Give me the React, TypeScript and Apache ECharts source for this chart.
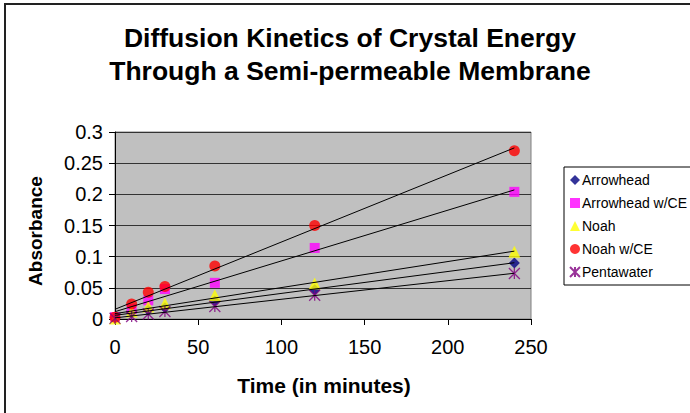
import React, { useEffect, useRef } from "react";
import * as echarts from "echarts";

const FONT = "'Liberation Sans', Arial, sans-serif";

const titleLines = ["Diffusion Kinetics of Crystal Energy", "Through a Semi-permeable Membrane"];
const xAxisTitle = "Time (in minutes)";
const yAxisTitle = "Absorbance";

const times = [0, 10, 20, 30, 60, 120, 240];
const seriesNames = ["Arrowhead", "Arrowhead w/CE", "Noah", "Noah w/CE", "Pentawater"];
const arrowhead = [0.002, 0.010, 0.014, 0.018, 0.029, 0.047, 0.090];
const arrowheadCE = [0.003, 0.016, 0.030, 0.048, 0.058, 0.114, 0.204];
const noah = [0.001, 0.012, 0.020, 0.025, 0.038, 0.057, 0.108];
const noahCE = [0.003, 0.024, 0.043, 0.052, 0.085, 0.150, 0.270];
const pentawater = [0.001, 0.004, 0.008, 0.012, 0.020, 0.038, 0.073];

const xMin = 0, xMax = 250, xStep = 50;
const yMin = 0, yMax = 0.3, yStep = 0.05;

const ASTERISK = "path://M0,0L10,10M10,0L0,10M5,0L5,10";

const styles = [
  { symbol: "diamond", color: "#000080", size: 11 },
  { symbol: "rect", color: "#FF00FF", size: 10 },
  { symbol: "triangle", color: "#FFFF00", size: 12 },
  { symbol: "circle", color: "#FF0000", size: 11 },
  { symbol: ASTERISK, color: "#800080", size: 11 },
];

function regression(xs: number[], ys: number[]) {
  const n = xs.length;
  const mx = xs.reduce((a, b) => a + b, 0) / n;
  const my = ys.reduce((a, b) => a + b, 0) / n;
  let sxy = 0, sxx = 0;
  for (let i = 0; i < n; i++) {
    sxy += (xs[i] - mx) * (ys[i] - my);
    sxx += (xs[i] - mx) * (xs[i] - mx);
  }
  const slope = sxy / sxx;
  const intercept = my - slope * mx;
  return { slope, intercept };
}

export default function App() {
  const ref = useRef<HTMLDivElement>(null);
  useEffect(() => {
    document.body.style.margin = "0";
    const chart = echarts.init(ref.current!, undefined, { renderer: "svg" });
    const allData = [arrowhead, arrowheadCE, noah, noahCE, pentawater];
    const scatter = allData.map((vals, i) => {
      const st = styles[i];
      const isAst = st.symbol === ASTERISK;
      return {
        name: seriesNames[i],
        type: "scatter",
        symbol: st.symbol,
        symbolSize: st.size,
        z: 2,
        itemStyle: isAst
          ? { color: "rgba(0,0,0,0)", borderColor: st.color, borderWidth: 1.3 }
          : { color: st.color },
        data: times.map((t, j) => [t, vals[j]]),
      };
    });
    const tMin = Math.min(...times), tMax = Math.max(...times);
    const trends = allData.map((vals, i) => {
      const { slope, intercept } = regression(times, vals);
      return {
        name: seriesNames[i] + " trend",
        type: "line",
        symbol: "none",
        z: 3,
        silent: true,
        lineStyle: { color: "#000000", width: 1 },
        data: [
          [tMin, intercept + slope * tMin],
          [tMax, intercept + slope * tMax],
        ],
      };
    });
    chart.setOption({
      animation: false,
      backgroundColor: "#ffffff",
      grid: {
        left: 115,
        top: 132,
        width: 416,
        height: 187,
        show: true,
        backgroundColor: "#C0C0C0",
        borderColor: "#808080",
        borderWidth: 1,
      },
      xAxis: {
        type: "value",
        min: xMin,
        max: xMax,
        interval: xStep,
        axisLine: { show: true, onZero: false, lineStyle: { color: "#000", width: 1 } },
        axisTick: { show: true, length: 6, lineStyle: { color: "#000" } },
        axisLabel: { color: "#000", fontSize: 20, fontFamily: FONT, margin: 18 },
        splitLine: { show: false },
      },
      yAxis: {
        type: "value",
        min: yMin,
        max: yMax,
        interval: yStep,
        axisLine: { show: true, lineStyle: { color: "#000", width: 1 } },
        axisTick: { show: true, length: 6, lineStyle: { color: "#000" } },
        axisLabel: { color: "#000", fontSize: 20, fontFamily: FONT, margin: 12 },
        splitLine: { show: true, lineStyle: { color: "#333333", width: 1 } },
      },
      legend: {
        orient: "vertical",
        left: 564,
        top: 167,
        padding: [6, 4, 6, 5],
        itemGap: 9,
        itemWidth: 10,
        itemHeight: 10,
        borderColor: "#000",
        borderWidth: 1,
        backgroundColor: "#fff",
        textStyle: { color: "#000", fontSize: 14, fontFamily: FONT, padding: [0, 0, 0, -3] },
        data: seriesNames,
      },
      graphic: [
        {
          type: "rect",
          shape: { x: 5, y: 4, width: 720, height: 440 },
          style: { fill: "none", stroke: "#222", lineWidth: 2 },
          silent: true,
        },
        {
          type: "text",
          x: 350,
          y: 54,
          style: {
            text: titleLines.join("\n"),
            fill: "#000",
            font: `bold 26.5px ${FONT}`,
            lineHeight: 33,
            textAlign: "center",
            textVerticalAlign: "middle",
          },
        },
        {
          type: "text",
          x: 324,
          y: 385,
          style: {
            text: xAxisTitle,
            fill: "#000",
            font: `bold 21px ${FONT}`,
            textAlign: "center",
            textVerticalAlign: "middle",
          },
        },
        {
          type: "text",
          x: 35,
          y: 231,
          rotation: Math.PI / 2,
          style: {
            text: yAxisTitle,
            fill: "#000",
            font: `bold 19px ${FONT}`,
            textAlign: "center",
            textVerticalAlign: "middle",
          },
        },
      ],
      series: [...scatter, ...trends],
    });
    return () => chart.dispose();
  }, []);
  return <div ref={ref} style={{ width: 690, height: 413 }} />;
}
